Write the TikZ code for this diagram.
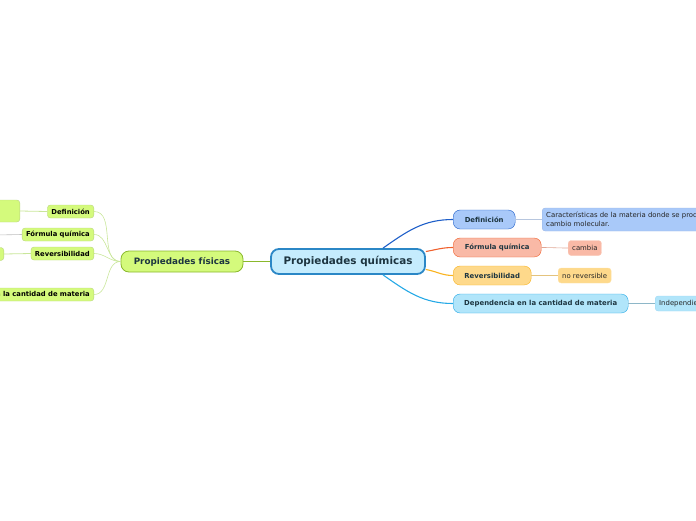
\documentclass[tikz,border=0pt]{standalone}
\usepackage{fontspec}
\setmainfont{DejaVu Sans}
\usetikzlibrary{calc}

\definecolor{txt}{HTML}{1D3540}
\definecolor{pqfill}{HTML}{C5ECFD}
\definecolor{pqdraw}{HTML}{2B87C6}
\definecolor{pffill}{HTML}{D4FA7C}
\definecolor{pfdraw}{HTML}{8AB82C}
\definecolor{pfline}{HTML}{C9E69A}
\definecolor{deffill}{HTML}{A9C9F9}
\definecolor{defdraw}{HTML}{1F5FC9}
\definecolor{forfill}{HTML}{F9B9A6}
\definecolor{fordraw}{HTML}{F0602C}
\definecolor{revfill}{HTML}{FED98B}
\definecolor{revdraw}{HTML}{F9B320}
\definecolor{depfill}{HTML}{B1E5FA}
\definecolor{depdraw}{HTML}{26A9E6}

\tikzset{
  topic/.style={rounded corners=7pt, text=txt, font=\bfseries\fontsize{6.9}{8}\selectfont, inner sep=0pt, minimum height=19},
  leaf/.style={rounded corners=3pt, text=black!85, font=\fontsize{6.9}{8.6}\selectfont, inner xsep=4pt, inner ysep=0pt, minimum height=15},
  small/.style={rounded corners=3pt, draw=pfdraw!60, fill=pffill, text=black, font=\bfseries\fontsize{6.8}{8}\selectfont, inner xsep=4pt, inner ysep=0pt, minimum height=13},
}

\begin{document}
\begin{tikzpicture}[x=1pt, y=-1pt]
    \useasboundingbox (0,0) rectangle (696,520);

    % main picture
    \node[draw=pqdraw, fill=pqfill, line width=1.8pt, rounded corners=8pt, text=txt,
          font=\bfseries\fontsize{10.4}{12}\selectfont, minimum width=154, minimum height=25]
          (pq) at (348,261.5) {Propiedades químicas};
    \node[draw=pfdraw, fill=pffill, line width=0.8pt, rounded corners=8pt, text=txt,
          font=\bfseries\fontsize{8.8}{10}\selectfont, minimum width=122, minimum height=21]
          (pf) at (182,261.5) {Propiedades físicas};
    \draw[pfdraw, line width=1pt] (pf.east) -- (pq.west);

    % right side
    \node[topic, draw=defdraw, fill=deffill, minimum width=62, anchor=west] (def) at (453,219.5) {Definición};
    \node[topic, draw=fordraw, fill=forfill, minimum width=88, anchor=west] (for) at (453,247.5) {Fórmula química};
    \node[topic, draw=revdraw, fill=revfill, minimum width=78, anchor=west] (rev) at (453,275.5) {Reversibilidad};
    \node[topic, draw=depdraw, fill=depfill, minimum width=175, anchor=west] (dep) at (453,303.5) {Dependencia en la cantidad de materia};

    \draw[defdraw, line width=1.1pt] ($(pq.north)+(35,0)$) to[out=35, in=180] (def.west);
    \draw[fordraw, line width=1.1pt] ($(pq.east)+(0,-10)$) to[out=10, in=180] (for.west);
    \draw[revdraw, line width=1.1pt] ($(pq.east)+(0,8)$) to[out=-10, in=180] (rev.west);
    \draw[depdraw, line width=1.1pt] ($(pq.south)+(35,0)$) to[out=-35, in=180] (dep.west);

    \node[leaf, draw=defdraw!45, fill=deffill, align=left, minimum height=23, anchor=west] (defl) at (542,219.5)
          {Características de la materia donde se produce un\\cambio molecular.};
    \node[leaf, draw=fordraw!35, fill=forfill, anchor=west] (forl) at (568,248) {cambia};
    \node[leaf, draw=revdraw!40, fill=revfill, anchor=west] (revl) at (558,275.5) {no reversible};
    \node[leaf, draw=depdraw!45, fill=depfill, anchor=west] (depl) at (655,303.5) {Independiente};

    \draw[deffill!80!black!60, line width=0.8pt] (def.east) to[out=0, in=180] (defl.west);
    \draw[forfill!90!black, line width=0.6pt] (for.east) to[out=0, in=180] (forl.west);
    \draw[revfill!90!black, line width=0.6pt] (rev.east) to[out=0, in=180] (revl.west);
    \draw[depfill!80!black, line width=0.6pt] (dep.east) to[out=0, in=180] (depl.west);

    % left side
    \node[small, anchor=east] (ldef) at (94,211.5) {Definición};
    \node[small, anchor=east] (lfor) at (94,234.5) {Fórmula química};
    \node[small, anchor=east] (lrev) at (94,253.5) {Reversibilidad};
    \node[small, anchor=east] (ldep) at (94,294.5) {Dependencia en la cantidad de materia};

    \foreach \n in {ldef,lfor,lrev,ldep}
        \draw[pfline, line width=0.6pt] (pf.west) to[out=180, in=0] (\n.east);

    \node[small, minimum width=60, minimum height=22, anchor=east] (ldefl) at (20,211) {};
    \node[small, minimum width=60, anchor=east] (lforl) at (-4,235) {};
    \node[small, minimum width=60, anchor=east] (lrevl) at (4,254) {};

    \draw[pfline, line width=0.8pt] (ldef.west) -- (ldefl.east);
    \draw[black!25, line width=0.6pt] (lfor.west) -- (lforl.east);
    \draw[pfline, line width=0.8pt] (lrev.west) -- (lrevl.east);
\end{tikzpicture}
\end{document}
